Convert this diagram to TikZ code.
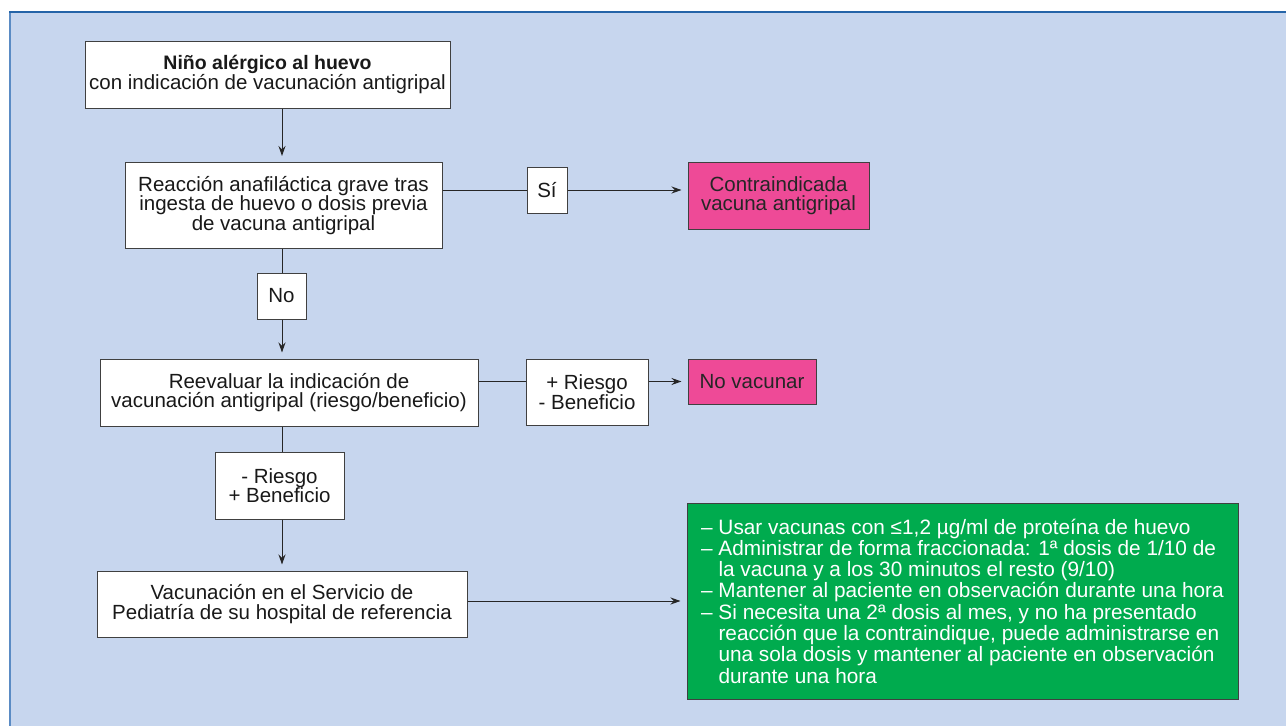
\documentclass[tikz,border=0pt]{standalone}
\usepackage{fontspec}
\setmainfont{Liberation Sans}
\usetikzlibrary{arrows.meta}
\definecolor{panelblue}{HTML}{C7D6EE}
\definecolor{topblue}{HTML}{2464A8}
\definecolor{sideblue}{HTML}{5A8BC4}
\definecolor{alertpink}{HTML}{EE4A97}
\definecolor{okgreen}{HTML}{00AB4E}
\definecolor{edge}{HTML}{404040}
\tikzset{
  flowbox/.style={draw=edge, line width=1pt, fill=white, align=center, inner sep=0pt,
    text=black!90, font=\fontsize{20.5}{19.5}\selectfont},
  pinkbox/.style={flowbox, fill=alertpink, text=black!85},
  greenbox/.style={draw=edge, line width=1pt, fill=okgreen, align=left, inner sep=0pt,
    text=white, font=\fontsize{20.8}{21.3}\selectfont},
  link/.style={draw=black!85, line width=1pt},
  arr/.style={link, -{Stealth[length=10pt,width=7pt]}, shorten >=6pt}
}
\begin{document}
\begin{tikzpicture}[x=1pt, y=-1pt]
  \useasboundingbox (0,0) rectangle (1286,726);
  % panel
  \fill[white] (0,0) rectangle (1286,726);
  \fill[panelblue] (10,12) rectangle (1286,726);
  \draw[sideblue, line width=2pt] (10,12) -- (10,726);
  \draw[topblue, line width=1.5pt] (9,12) -- (1286,12);

  % boxes
  \node[flowbox, minimum width=365pt, minimum height=67pt] (start) at (267.5,74.5)
    {{\bfseries\fontsize{19.5}{19.5}\selectfont Niño alérgico al huevo}\\con indicación de vacunación antigripal};
  \node[flowbox, minimum width=317pt, minimum height=86pt] (anaf) at (283.5,205.5)
    {Reacción anafiláctica grave tras\\ingesta de huevo o dosis previa\\de vacuna antigripal};
  \node[flowbox, minimum width=40pt, minimum height=46pt] (si) at (547,190) {Sí};
  \node[pinkbox, minimum width=181pt, minimum height=67pt] (contra) at (778.5,195.5)
    {Contraindicada\\vacuna antigripal};
  \node[flowbox, minimum width=49pt, minimum height=46pt] (no) at (281.5,296) {No};
  \node[flowbox, minimum width=378pt, minimum height=67pt] (reeval) at (289,392.5)
    {Reevaluar la indicación de\\vacunación antigripal (riesgo/beneficio)};
  \node[flowbox, minimum width=122pt, minimum height=66pt] (masriesgo) at (587,392)
    {+ Riesgo\\- Beneficio};
  \node[pinkbox, minimum width=128pt, minimum height=45pt] (novac) at (752,381.5)
    {No vacunar};
  \node[flowbox, minimum width=129pt, minimum height=67pt] (menosriesgo) at (279.5,485.5)
    {- Riesgo\\+ Beneficio};
  \node[flowbox, minimum width=370pt, minimum height=66pt] (hosp) at (282,604)
    {Vacunación en el Servicio de\\Pediatría de su hospital de referencia};
  \node[greenbox, minimum width=551pt, minimum height=196pt] (pauta) at (962.5,601)
    {–\ Usar vacunas con ≤1,2 µg/ml de proteína de huevo\\
     –\ Administrar de forma fraccionada: 1ª dosis de 1/10 de\\
     \hphantom{–\ }la vacuna y a los 30 minutos el resto (9/10)\\
     –\ Mantener al paciente en observación durante una hora\\
     –\ Si necesita una 2ª dosis al mes, y no ha presentado\\
     \hphantom{–\ }reacción que la contraindique, puede administrarse en\\
     \hphantom{–\ }una sola dosis y mantener al paciente en observación\\
     \hphantom{–\ }durante una hora};

  % vertical spine
  \coordinate (spine) at (282,0);

  % connectors
  \draw[arr] (start.south -| spine) -- (anaf.north -| spine);
  \draw[link] (anaf.east |- si.west) -- (si.west);
  \draw[arr] (si.east) -- (contra.west |- si.east);
  \draw[link] (anaf.south -| spine) -- (no.north -| spine);
  \draw[arr] (no.south -| spine) -- (reeval.north -| spine);
  \draw[link] (reeval.east |- novac.west) -- (masriesgo.west |- novac.west);
  \draw[arr] (masriesgo.east |- novac.west) -- (novac.west);
  \draw[link] (reeval.south -| spine) -- (menosriesgo.north -| spine);
  \draw[arr] (menosriesgo.south -| spine) -- (hosp.north -| spine);
  \draw[arr] (hosp.east |- pauta.west) -- (pauta.west);
\end{tikzpicture}
\end{document}
